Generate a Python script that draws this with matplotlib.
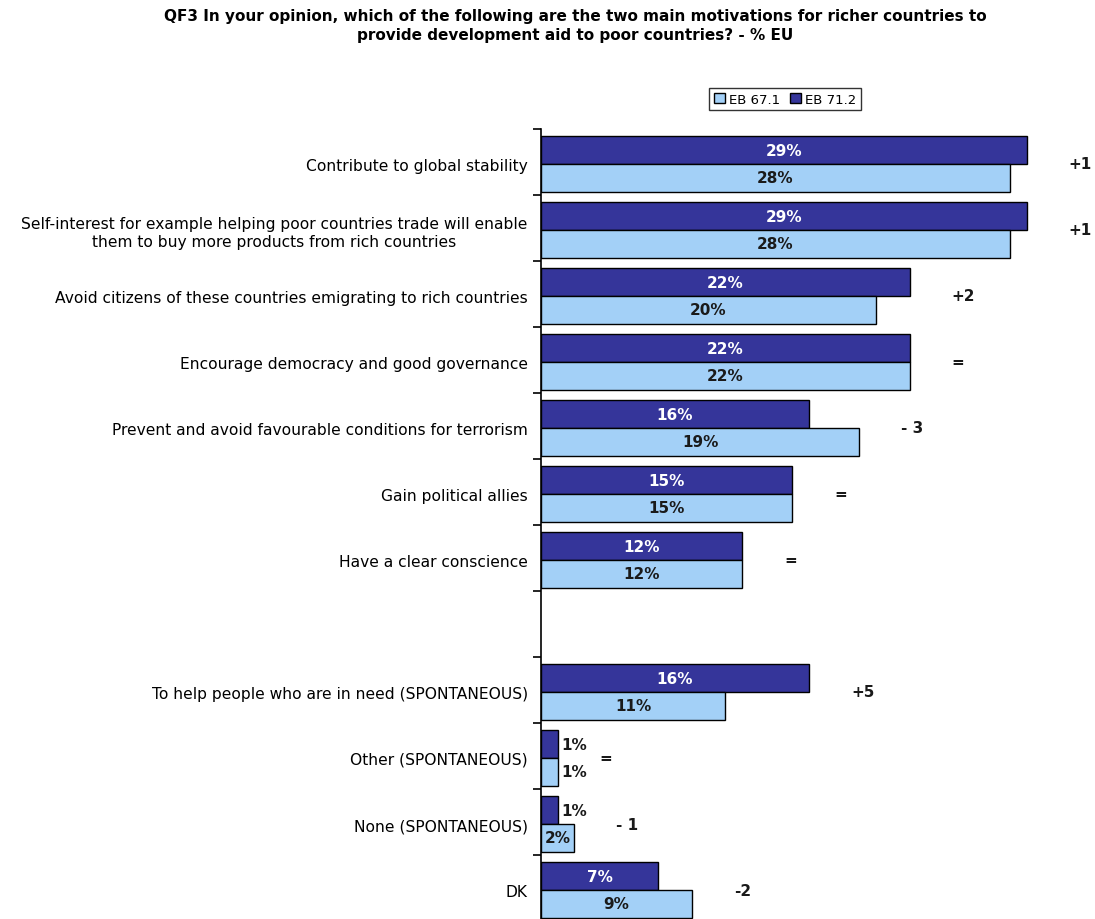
import numpy as np
import matplotlib
matplotlib.use('Agg')
import matplotlib.pyplot as plt
from matplotlib.patches import Patch

title = ("QF3 In your opinion, which of the following are the two main motivations for richer countries to\n"
         "provide development aid to poor countries? - % EU")

categories = [
    "Contribute to global stability",
    "Self-interest for example helping poor countries trade will enable\nthem to buy more products from rich countries",
    "Avoid citizens of these countries emigrating to rich countries",
    "Encourage democracy and good governance",
    "Prevent and avoid favourable conditions for terrorism",
    "Gain political allies",
    "Have a clear conscience",
    "",
    "To help people who are in need (SPONTANEOUS)",
    "Other (SPONTANEOUS)",
    "None (SPONTANEOUS)",
    "DK",
]
eb671 = [28, 28, 20, 22, 19, 15, 12, None, 11, 1, 2, 9]
eb712 = [29, 29, 22, 22, 16, 15, 12, None, 16, 1, 1, 7]
changes = ["+1", "+1", "+2", "=", "- 3", "=", "=", "", "+5", "=", "- 1", "-2"]

dark = "#35359a"
light = "#a3d0f7"

fig = plt.figure(figsize=(10.95, 9.2), dpi=100)
ax = fig.add_axes([0.494, -0.0022, 0.505, 0.8609])

h = 0.42
for i, cat in enumerate(categories):
    if eb712[i] is None:
        continue
    c = i + 0.53
    ax.barh(c - h / 2, eb712[i], height=h, color=dark, edgecolor="black", linewidth=1)
    ax.barh(c + h / 2, eb671[i], height=h, color=light, edgecolor="black", linewidth=1)
    for v, y, col in [(eb712[i], c - h / 2, "white"), (eb671[i], c + h / 2, "#1a1a1a")]:
        if v <= 1:
            ax.text(v + 0.2, y, f"{v}%", ha="left", va="center", fontsize=11,
                    fontweight="bold", color="#1a1a1a")
        else:
            ax.text(v / 2, y, f"{v}%", ha="center", va="center", fontsize=11,
                    fontweight="bold", color=col)
    ax.text(max(eb712[i], eb671[i]) + 2.5, c, changes[i], ha="left", va="center",
            fontsize=11, fontweight="bold", color="#1a1a1a")

ax.set_xlim(0, 33)
ax.set_ylim(12, 0)
ax.set_yticks([i + 0.53 for i in range(len(categories))])
ax.set_yticklabels(categories, fontsize=11.2, multialignment="center")
ax.tick_params(axis="y", length=0, pad=9.5)
ax.set_yticks(np.arange(0, 13), minor=True)
ax.tick_params(axis="y", which="minor", length=6, width=1.2, direction="out")
ax.set_xticks([])
for s in ["top", "right", "bottom"]:
    ax.spines[s].set_visible(False)
ax.spines["left"].set_linewidth(1.2)

fig.text(0.525, 0.99, title, ha="center", va="top", fontsize=11, fontweight="bold",
         linespacing=1.3)

handles = [Patch(facecolor=light, edgecolor="black", label="EB 67.1"),
           Patch(facecolor=dark, edgecolor="black", label="EB 71.2")]
fig.legend(handles=handles, loc="center", bbox_to_anchor=(785 / 1095, 1 - 100 / 920),
           ncol=2, fontsize=9.5, frameon=True, fancybox=False, edgecolor="black",
           handlelength=0.8, handleheight=0.8, handletextpad=0.3, columnspacing=0.8,
           borderpad=0.35)

fig.savefig("out.png", dpi=100)
